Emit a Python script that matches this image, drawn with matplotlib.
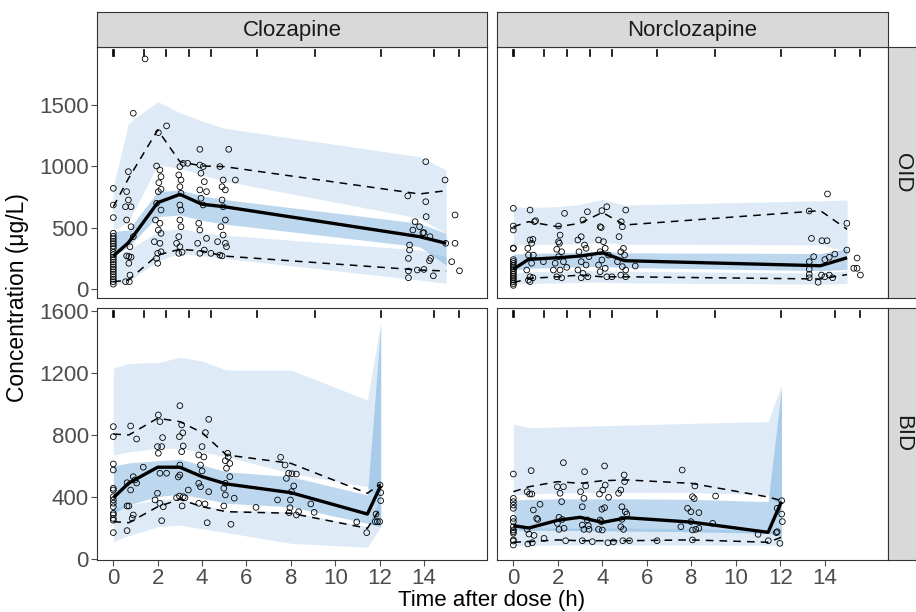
import matplotlib
matplotlib.use("Agg")
import matplotlib.pyplot as plt
import matplotlib.transforms as mtransforms
import numpy as np

plt.rcParams['font.family'] = ['Liberation Sans', 'DejaVu Sans']

# ---------------- data ----------------
analytes = ["Clozapine", "Norclozapine"]
regimens = ["OID", "BID"]
bin_edges = [0, 0.05, 1.40, 2.39, 3.43, 4.42, 6.47, 9.07, 12.05, 14.44, 15.58]

qd_x = [0, 0.68, 2, 3, 4, 5, 13.8, 15]
bid_x = [0, 0.7, 2, 3, 4, 5.1, 8, 11.45, 12.05]

# Clozapine OID
cq_hi_top = [835, 1351, 1528, 1438, 1370, 1311, 1079, 971]
cq_hi_bot = [470, 549, 1011, 984, 930, 880, 577, 454]
cq_md_top = [470, 481, 794, 808, 760, 730, 536, 454]
cq_md_bot = [265, 345, 590, 604, 560, 530, 345, 196]
cq_lo_top = [260, 318, 467, 495, 460, 440, 318, 264]
cq_lo_bot = [30, 60, 230, 291, 270, 250, 73, 46]
cq_p95 = [671, 900, 1297, 1038, 1003, 998, 775, 802]
cq_p50 = [269, 378, 704, 772, 691, 671, 427, 373]
cq_p5 = [60, 73, 277, 324, 310, 269, 155, 147]
cq_obs_t = [0]*24 + [0.9, 0.68, 0.6, 0.68, 0.55, 0.8, 0.6, 0.8, 0.9, 0.75, 0.6, 0.7, 0.8, 0.7, 0.75, 0.55, 0.72,
            1.43,
            2.4, 2.03, 1.95, 2.1, 2.15, 2.05, 2.15, 2.03, 1.95, 2.15, 1.9, 2.1, 2.03, 2.15, 1.85, 2.1, 2.0, 2.15, 2.0, 1.95,
            3.0, 2.95, 3.05, 3.0, 3.05, 3.0, 3.05, 3.0, 3.05, 2.95, 2.85, 3.0, 2.95, 3.15, 3.35, 3.1,
            3.9, 3.9, 4.05, 3.95, 4.1, 3.9, 4.2, 3.95, 4.05, 3.85, 3.9, 4.2, 3.8, 4.1, 3.9, 4.4,
            5.2, 4.8, 4.95, 4.9, 5.05, 4.9, 4.95, 5.05, 4.85, 4.95, 4.7, 5.05, 5.1, 4.8, 4.9, 5.5,
            14.08, 14.95, 13.27, 14.08, 14.1, 15.4, 13.6, 13.8, 13.5, 13.95, 14.0, 14.27, 13.35, 13.35, 13.3, 14.3,
            14.25, 14.98, 15.4, 15.25, 15.6, 13.3, 13.7, 14.0, 13.3, 14.42]
cq_obs_c = [821, 685, 582, 455, 430, 410, 390, 370, 350, 330, 300, 280, 260, 240, 220, 200, 180, 160, 140, 120,
            100, 80, 60, 40,
            1433, 957, 794, 726, 671, 671, 563, 508, 427, 345, 270, 265, 260, 210, 114, 60, 60,
            1876,
            1330, 1275, 1003, 971, 916, 867, 813, 794, 699, 644, 563, 536, 481, 454, 386, 373, 291, 304, 210, 250,
            998, 930, 889, 834, 781, 685, 644, 563, 508, 427, 373, 345, 291, 1025, 1025, 300,
            1139, 1011, 998, 944, 875, 808, 794, 740, 685, 536, 481, 413, 373, 318, 291, 291,
            1139, 998, 889, 834, 808, 726, 671, 563, 508, 440, 386, 373, 345, 277, 270, 889,
            1038, 889, 759, 712, 590, 604, 549, 508, 481, 459, 459, 427, 359, 318, 250, 250,
            231, 373, 373, 223, 149, 147, 155, 160, 92, 108]

# Norclozapine OID
nq_hi_top = [671, 665, 671, 690, 731, 685, 720, 726]
nq_hi_bot = [360, 365, 365, 370, 380, 365, 360, 310]
nq_md_top = [285, 290, 295, 300, 310, 295, 290, 330]
nq_md_bot = [150, 170, 175, 180, 185, 175, 150, 160]
nq_lo_top = [130, 140, 145, 150, 150, 145, 130, 150]
nq_lo_bot = [40, 45, 50, 55, 55, 50, 40, 45]
nq_p95 = [508, 549, 508, 536, 625, 522, 639, 487]
nq_p50 = [161, 242, 255, 269, 296, 231, 190, 255]
nq_p5 = [51, 87, 100, 114, 100, 100, 82, 118]
nq_obs_t = [0]*20 + [0.75, 0.95, 1.0, 0.75, 0.88, 0.82, 0.65, 0.9, 0.68, 0.82, 0.6, 0.75, 0.88, 0.68, 0.75, 1.35,
            2.3, 2.03, 2.1, 2.03, 2.07, 1.95, 2.17, 2.03, 2.25, 1.88, 2.1, 1.95, 2.17, 1.8, 2.4,
            3.33, 3.13, 3.05, 2.9, 3.2, 3.27, 2.95, 3.4, 3.05, 3.27, 2.9, 3.13, 3.35, 3.05,
            4.2, 3.98, 3.9, 3.95, 3.83, 4.05, 4.13, 3.9, 4.28, 3.98, 3.83, 4.13, 3.9, 4.2, 4.43,
            5.05, 4.85, 4.9, 4.75, 4.95, 4.83, 5.0, 4.68, 4.9, 5.05, 4.83, 5.48, 5.05,
            14.12, 13.3, 14.99, 13.4, 13.87, 14.1, 14.45, 13.5, 13.3, 14.0, 14.2, 14.99, 15.45, 15.3, 15.45, 15.6,
            13.3, 13.3, 13.85, 14.0, 14.2, 14.35, 13.7, 13.3]
nq_obs_c = [658, 514, 481, 335, 330, 240, 225, 210, 195, 180, 165, 150, 135, 120, 105, 90, 75, 60, 45, 30,
            644, 549, 557, 400, 405, 373, 332, 277, 277, 210, 155, 100, 92, 73, 60, 223,
            617, 514, 440, 386, 373, 324, 304, 264, 223, 210, 155, 100, 92, 155, 177,
            630, 563, 427, 400, 359, 332, 304, 264, 223, 196, 155, 128, 100, 92,
            671, 639, 508, 501, 400, 386, 332, 304, 277, 237, 196, 169, 141, 100, 100,
            644, 549, 508, 427, 332, 304, 277, 223, 183, 155, 114, 188, 100,
            775, 636, 536, 413, 394, 394, 285, 264, 223, 240, 259, 318, 253, 169, 169, 114,
            161, 120, 114, 100, 114, 92, 55, 92]

# Clozapine BID
cb_hi_top = [1230, 1262, 1267, 1301, 1277, 1219, 1219, 1026, 1531]
cb_hi_bot = [671, 690, 714, 714, 690, 660, 553, 467, 380]
cb_md_top = [600, 620, 634, 643, 606, 563, 531, 413, 1500]
cb_md_bot = [295, 350, 402, 419, 392, 359, 337, 230, 208]
cb_lo_top = [330, 350, 381, 392, 350, 316, 305, 208, 400]
cb_lo_bot = [112, 150, 208, 219, 195, 170, 101, 75, 208]
cb_p95 = [806, 800, 908, 886, 815, 671, 617, 424, 484]
cb_p50 = [395, 490, 592, 592, 531, 484, 428, 290, 473]
cb_p5 = [241, 234, 337, 385, 337, 305, 295, 198, 330]
cb_obs_t = [0]*15 + [0.78, 1.05, 0.62, 0.7, 0.9, 0.98, 1.05, 0.62, 0.78, 0.9, 0.85, 0.62, 1.35,
            2.03, 2.1, 2.22, 2.18, 1.99, 2.03, 2.1, 2.4, 1.99, 1.88, 2.1, 2.25, 2.18,
            3.0, 3.08, 2.98, 3.13, 3.15, 3.08, 3.0, 3.0, 2.93, 3.38, 3.15, 2.98, 3.23, 3.1, 2.85,
            4.3, 4.15, 4.0, 3.85, 4.08, 3.93, 4.0, 3.85, 3.93, 4.3, 3.85, 4.13, 4.23,
            5.15, 5.18, 5.05, 5.25, 5.1, 5.25, 5.05, 4.98, 5.05, 5.45, 4.98, 5.3,
            6.43, 7.54, 7.74, 7.9, 8.05, 8.25, 7.8, 8.13, 8.03, 7.4, 7.98, 7.96, 8.35, 7.92, 8.25, 8.9, 9.05,
            10.97, 11.42,
            12.02, 12.05, 12.05, 11.84, 11.9, 12.0, 11.8]
cb_obs_c = [854, 789, 613, 574, 456, 445, 402, 381, 360, 337, 295, 285, 262, 250, 170,
            858, 774, 342, 342, 531, 510, 490, 492, 445, 284, 262, 183, 592,
            929, 886, 783, 725, 725, 682, 553, 553, 424, 381, 359, 337, 247,
            989, 865, 789, 814, 729, 692, 606, 542, 529, 445, 402, 406, 395, 342, 395,
            901, 815, 725, 671, 658, 606, 568, 488, 466, 434, 359, 355, 234,
            682, 658, 634, 616, 585, 531, 488, 456, 413, 392, 342, 224,
            333, 656, 606, 553, 550, 548, 520, 471, 434, 381, 381, 331, 305, 299, 284, 355, 301,
            239, 170,
            477, 428, 376, 290, 241, 241, 241]

# Norclozapine BID
nb_hi_top = [871, 847, 852, 856, 860, 864, 875, 886, 1123]
nb_hi_bot = [413, 420, 425, 428, 428, 428, 428, 415, 330]
nb_md_top = [381, 385, 388, 388, 388, 388, 385, 370, 1100]
nb_md_bot = [187, 185, 185, 183, 182, 180, 176, 166, 144]
nb_lo_top = [200, 200, 200, 200, 200, 200, 195, 185, 200]
nb_lo_bot = [86, 88, 90, 90, 90, 90, 90, 88, 90]
nb_p95 = [434, 466, 499, 488, 505, 510, 488, 400, 376]
nb_p50 = [215, 200, 250, 269, 236, 266, 238, 172, 370]
nb_p5 = [108, 112, 123, 118, 118, 118, 123, 108, 140]
nb_obs_t = [0]*14 + [0.8, 0.83, 0.73, 0.62, 1.2, 0.9, 1.05, 1.1, 0.62, 0.7, 0.93, 0.65, 0.85, 1.38,
            2.25, 1.98, 2.25, 2.1, 2.17, 2.05, 2.2, 1.98, 2.28, 2.05, 2.35,
            3.2, 3.25, 3.02, 3.17, 3.1, 3.32, 3.1, 3.37, 3.17, 3.4, 3.55, 3.1,
            4.1, 3.87, 4.02, 4.13, 4.28, 3.98, 4.1, 3.9, 3.95, 3.83, 4.0, 4.25, 4.5,
            4.98, 5.0, 4.83, 4.73, 4.88, 5.03, 5.1, 4.88, 4.83, 4.95, 4.92, 5.22,
            7.59, 8.16, 8.05, 8.13, 7.83, 7.98, 8.34, 7.53, 7.98, 8.05, 8.2, 8.34, 8.05, 9.09, 8.96, 6.46,
            11.0, 11.46, 11.82, 12.06, 11.86, 12.06, 12.09, 11.98, 11.86]
nb_obs_c = [548, 391, 370, 348, 327, 262, 241, 208, 187, 166, 123, 90, 116, 176,
            570, 419, 419, 434, 353, 316, 262, 255, 191, 161, 152, 97, 105, 133,
            621, 466, 466, 424, 370, 269, 255, 230, 198, 191, 118,
            563, 471, 434, 391, 337, 252, 219, 215, 191, 191, 112, 118,
            600, 419, 445, 477, 398, 321, 331, 252, 241, 191, 187, 105, 110,
            542, 499, 445, 424, 337, 305, 290, 256, 208, 191, 118, 118,
            574, 471, 402, 390, 327, 305, 299, 208, 241, 187, 191, 198, 123, 406, 230, 118,
            159, 118, 170, 376, 327, 290, 241, 101, 176]

x_ticks = [0, 2, 4, 6, 8, 10, 12, 14]
y_ticks_top = [0, 500, 1000, 1500]
y_ticks_bot = [0, 400, 800, 1200, 1600]

# ------------- panel table -------------
panels = {
    (0, 0): dict(x=qd_x, bands=[(cq_hi_bot, cq_hi_top), (cq_lo_bot, cq_lo_top)], med=(cq_md_bot, cq_md_top),
                 lines=(cq_p5, cq_p50, cq_p95), obs=(cq_obs_t, cq_obs_c)),
    (0, 1): dict(x=qd_x, bands=[(nq_hi_bot, nq_hi_top), (nq_lo_bot, nq_lo_top)], med=(nq_md_bot, nq_md_top),
                 lines=(nq_p5, nq_p50, nq_p95), obs=(nq_obs_t, nq_obs_c)),
    (1, 0): dict(x=bid_x, bands=[(cb_hi_bot, cb_hi_top), (cb_lo_bot, cb_lo_top)], med=(cb_md_bot, cb_md_top),
                 lines=(cb_p5, cb_p50, cb_p95), obs=(cb_obs_t, cb_obs_c)),
    (1, 1): dict(x=bid_x, bands=[(nb_hi_bot, nb_hi_top), (nb_lo_bot, nb_lo_top)], med=(nb_md_bot, nb_md_top),
                 lines=(nb_p5, nb_p50, nb_p95), obs=(nb_obs_t, nb_obs_c)),
}

W, H = 916, 612
fig = plt.figure(figsize=(W / 100, H / 100), dpi=100)

col_px = [(97, 487), (497, 888)]
row_px = [(47, 298), (308, 560)]
ylims = [(-73, 1973), (-6.5, 1619)]
xlim = (-0.735, 16.84)
fill_col = '#3388cc'
border_col = '#333333'
tick_col = '#4d4d4d'

def rect(x0, x1, y0, y1):
    return [x0 / W, 1 - y1 / H, (x1 - x0) / W, (y1 - y0) / H]

for (r, c), p in panels.items():
    ax = fig.add_axes(rect(col_px[c][0], col_px[c][1], row_px[r][0], row_px[r][1]))
    x = np.array(p['x'])
    for lo, hi in p['bands']:
        ax.fill_between(x, lo, hi, color=fill_col, alpha=0.16, linewidth=0)
    ax.fill_between(x, p['med'][0], p['med'][1], color=fill_col, alpha=0.32, linewidth=0)
    ax.scatter(p['obs'][0], p['obs'][1], s=17, facecolors='none', edgecolors='black', linewidths=0.6, zorder=3)
    p5, p50, p95 = p['lines']
    ax.plot(x, p95, color='black', lw=1.1, dashes=(5, 4), zorder=4)
    ax.plot(x, p5, color='black', lw=1.1, dashes=(5, 4), zorder=4)
    ax.plot(x, p50, color='black', lw=2.4, zorder=5, solid_capstyle='butt')
    # rug of bin separators at panel top
    trans = mtransforms.blended_transform_factory(ax.transData, ax.transAxes)
    for e in bin_edges:
        ax.plot([e, e], [0.99, 0.965], transform=trans, color='black', lw=1.2, clip_on=False)
    ax.set_xlim(*xlim)
    ax.set_ylim(*ylims[r])
    ax.set_xticks(x_ticks)
    ax.set_yticks(y_ticks_top if r == 0 else y_ticks_bot)
    for s in ax.spines.values():
        s.set_color(border_col)
        s.set_linewidth(0.8)
    ax.tick_params(axis='both', colors=tick_col, labelcolor=tick_col, labelsize=16, length=4, width=0.8, pad=2)
    if r == 0:
        ax.tick_params(axis='x', bottom=False, labelbottom=False)
    if c == 1:
        ax.tick_params(axis='y', left=False, labelleft=False)
    ax.set_facecolor('white')

# strips
for c, name in enumerate(analytes):
    sax = fig.add_axes(rect(col_px[c][0], col_px[c][1], 12, 47))
    sax.set_facecolor('#d9d9d9')
    sax.set_xticks([]); sax.set_yticks([])
    for s in sax.spines.values():
        s.set_color(border_col); s.set_linewidth(0.8)
    sax.text(0.5, 0.48, name, ha='center', va='center', fontsize=16, color='#1a1a1a', transform=sax.transAxes)
for r, name in enumerate(regimens):
    sax = fig.add_axes(rect(888, 922, row_px[r][0], row_px[r][1]))
    sax.set_facecolor('#d9d9d9')
    sax.set_xticks([]); sax.set_yticks([])
    for s in sax.spines.values():
        s.set_color(border_col); s.set_linewidth(0.8)
    sax.text(15 / 34, 0.5, name, ha='center', va='center', rotation=-90, fontsize=16, color='#1a1a1a',
             transform=sax.transAxes)

fig.text(18 / W, 1 - 298 / H, 'Concentration (μg/L)', rotation=90, ha='center', va='center', fontsize=16.5,
         color='black')
fig.text(492 / W, 1 - 606 / H, 'Time after dose (h)', ha='center', va='baseline', fontsize=16, color='black')

fig.savefig('out.png', dpi=100)
